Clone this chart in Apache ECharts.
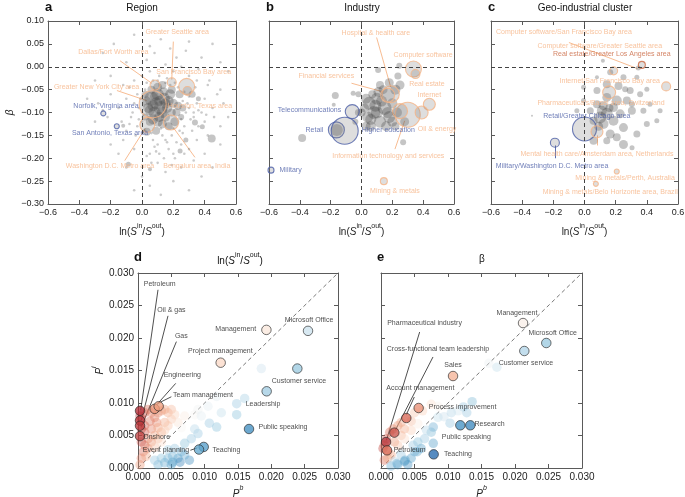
<!DOCTYPE html>
<html><head><meta charset="utf-8">
<script src="https://cdn.jsdelivr.net/npm/echarts@6/dist/echarts.min.js"></script>
<style>html,body{margin:0;padding:0;background:#fff}#c{width:685px;height:497px}</style>
</head><body><div id="c"></div>
<script>
// ---------------- DATA ----------------
// Panel a: Region  (x = ln(Sin/Sout), y = beta)
const regionDots = [
[-0.05,0.07],[0.12,0.06],[0.30,0.055],[0.45,0.05],[-0.25,0.03],[0.08,0.03],[0.22,0.02],[0.38,0.02],[0.50,0.01],[-0.10,0.01],[0.15,0.005],[0.03,0.015],[0.28,0.035],[-0.18,0.05],[0.55,-0.01],
[-0.30,-0.03],[-0.20,-0.02],[-0.12,-0.04],[-0.05,-0.03],[0.00,-0.02],[0.05,-0.01],[0.10,-0.03],[0.20,-0.01],[0.30,-0.02],[0.35,-0.03],[0.42,-0.04],[0.50,-0.05],[-0.08,-0.045],
[-0.35,-0.07],[-0.28,-0.08],[-0.20,-0.06],[-0.15,-0.09],[-0.10,-0.07],[-0.05,-0.08],[-0.02,-0.09],[0.30,-0.09],[0.35,-0.08],[0.40,-0.07],[0.45,-0.09],[0.52,-0.08],[0.48,-0.06],[-0.25,-0.095],
[-0.30,-0.12],[-0.22,-0.11],[-0.13,-0.12],[-0.07,-0.11],[-0.03,-0.13],[0.00,-0.10],[0.27,-0.13],[0.33,-0.11],[0.40,-0.12],[0.50,-0.13],[0.55,-0.11],[-0.10,-0.14],
[-0.20,-0.17],[-0.12,-0.16],[-0.05,-0.18],[0.00,-0.16],[0.05,-0.19],[0.10,-0.17],[0.15,-0.16],[0.20,-0.19],[0.25,-0.17],[0.30,-0.18],[0.35,-0.16],[0.40,-0.19],[0.50,-0.17],[-0.15,-0.19],
[-0.10,-0.22],[0.00,-0.24],[0.05,-0.26],[0.10,-0.21],[0.15,-0.23],[0.20,-0.25],[0.25,-0.22],[0.30,-0.27],[0.38,-0.24],[0.12,-0.28],[-0.05,-0.27],[0.45,-0.22],
[0.02,-0.05],[0.04,-0.11],[0.18,-0.04],[0.23,-0.045],[0.26,-0.075],[0.28,-0.10],[0.24,-0.14],[0.19,-0.15],[0.13,-0.15],[0.07,-0.16],[-0.01,-0.07],[0.00,-0.12],[0.16,-0.025],[0.11,-0.02],[0.07,-0.03],[0.30,-0.065],[0.33,-0.10],[0.22,-0.165],[0.17,-0.18],[0.09,-0.185],
[0.36,-0.13],[0.42,-0.15],[0.38,-0.10],[0.32,-0.14],[0.27,-0.19],[0.14,-0.20],[0.06,-0.21],[0.02,-0.14],[-0.04,-0.15],[0.21,-0.20],[0.46,-0.11],[0.43,-0.03],[0.36,-0.005],[0.25,0.0],[0.18,0.04],[0.05,0.045],
[0.01,-0.085],[0.03,-0.035],[0.15,-0.035],[0.21,-0.035],[0.27,-0.055],[0.29,-0.08],[0.25,-0.115],[0.20,-0.135],[0.12,-0.135],[0.06,-0.145],[0.01,-0.105],[-0.03,-0.06],[0.34,-0.045],[0.31,-0.115],[0.16,-0.165],[0.11,-0.19],
[-0.06,-0.10],[-0.08,-0.125],[-0.02,-0.115],[0.36,-0.095],[0.41,-0.105],[0.26,-0.145],[0.08,-0.175],[0.03,-0.195],[0.19,-0.215],[0.33,-0.205]
];
const regionBubbles = [
[0.06,-0.07,14],[0.10,-0.06,12],[0.14,-0.07,12],[0.12,-0.09,14],[0.08,-0.10,12],[0.16,-0.09,10],[0.18,-0.06,10],[0.20,-0.08,9],[0.04,-0.09,10],[0.10,-0.12,10],[0.15,-0.11,9],[0.22,-0.10,8],
[0.06,-0.05,8],[0.13,-0.04,8],[0.24,-0.06,8],[0.02,-0.06,7],[0.17,-0.13,8],[0.26,-0.09,7],[0.09,-0.14,8],[0.05,-0.12,8],[0.21,-0.12,9],[0.11,-0.075,10],[0.14,-0.055,9],[0.07,-0.085,11],
[0.09,-0.08,12],[0.13,-0.10,11],[0.05,-0.095,10],[0.17,-0.075,10],[0.11,-0.11,10],[0.08,-0.065,9],[0.19,-0.10,8],[0.15,-0.08,10],
[0.03,-0.075,9],[0.10,-0.045,9],[0.19,-0.05,8],[0.23,-0.085,8],[0.13,-0.125,9],[0.07,-0.115,10],[0.02,-0.11,7],[0.25,-0.11,6],
[0.445,-0.157,8],[0.03,-0.142,8],[0.243,-0.184,5],[0.385,-0.131,5],[0.338,-0.122,6],[0.32,-0.06,7],[-0.12,-0.129,4],[-0.087,-0.213,5],[0.051,-0.224,4],[0.28,-0.16,5],[0.36,-0.07,5]
];
const regionMarked = [
['Greater New York City area',0.068,-0.082,27,'o'],
['Dallas/Fort Worth area',0.083,-0.040,10,'o'],
['Greater Seattle area',0.19,-0.034,9,'o'],
['San Francisco Bay area',0.285,-0.043,16,'o'],
['Houston, Texas area',0.29,-0.053,9,'o'],
['Washington D.C. Metro area',0.034,-0.127,15,'o'],
['Bengaluru area, India',0.185,-0.122,15,'o'],
['Norfolk, Virginia area',-0.247,-0.102,5,'b'],
['San Antonio, Texas area',-0.161,-0.130,5,'b']
];
const regionLabels = [
['Greater Seattle area',0.225,0.075,'o'],
['Dallas/Fort Worth area',-0.183,0.033,'o'],
['San Francisco Bay area',0.33,-0.011,'o'],
['Greater New York City area',-0.29,-0.045,'o'],
['Houston, Texas area',0.37,-0.086,'o'],
['Norfolk, Virginia area',-0.23,-0.087,'b'],
['San Antonio, Texas area',-0.204,-0.145,'b'],
['Washington D.C. Metro area',-0.204,-0.218,'o'],
['Bengaluru area, India',0.35,-0.216,'o']
];
const regionLeaders = [
[0.20,0.055,0.19,-0.028,'o'],
[-0.14,0.013,0.062,-0.036,'o'],
[-0.16,-0.052,0.03,-0.074,'o'],
[-0.11,-0.205,0.02,-0.135,'o'],
[0.338,-0.198,0.2,-0.133,'o']
];

// Panel b: Industry
const industryBubbles = [
[0.05,-0.08,13],[0.10,-0.07,12],[0.15,-0.09,14],[0.08,-0.10,13],[0.12,-0.12,12],[0.04,-0.11,11],[0.18,-0.11,12],[0.20,-0.08,10],[0.22,-0.05,10],[0.14,-0.05,9],[0.06,-0.13,10],[0.16,-0.13,10],
[0.10,-0.10,12],[0.02,-0.09,9],[0.23,-0.10,10],[0.12,-0.04,8],[0.25,-0.04,9],[0.07,-0.06,8],[0.18,-0.035,9],[0.00,-0.10,8],[0.03,-0.13,9],[0.22,-0.13,8],[0.28,-0.12,9],
[0.09,-0.085,12],[0.13,-0.075,11],[0.06,-0.115,11],[0.17,-0.10,11],[0.03,-0.07,10],[0.11,-0.055,10],[0.2,-0.12,10],
[-0.385,-0.156,8],[0.27,-0.165,6],[-0.17,-0.063,7],[-0.18,-0.083,4],[-0.054,-0.058,5],[0.108,-0.007,6],[0.245,0.002,6],[0.236,-0.02,7],[-0.02,-0.06,6],[-0.04,-0.12,6],[-0.02,-0.10,7],[-0.16,-0.138,12]
];
const industryMarked = [
['Computer software',0.337,-0.005,16,'o'],
['Real estate',0.35,-0.016,9,'o'],
['Hospital & health care',0.19,-0.06,17,'o'],
['Financial services',0.17,-0.062,14,'o'],
['Internet',0.44,-0.082,12,'o'],
['Information technology and services',0.30,-0.105,25,'o'],
['Oil & energy',0.39,-0.10,13,'o'],
['Computer hardware',0.25,-0.097,15,'o'],
['Telecommunications',-0.06,-0.098,14,'b'],
['Retail',-0.163,-0.138,16,'b'],
['Higher education',-0.109,-0.14,27,'b'],
['Military',-0.587,-0.226,6,'b'],
['Mining & metals',0.145,-0.25,7,'o']
];
const industryLabels = [
['Hospital & health care',0.093,0.074,'o'],
['Computer software',0.40,0.026,'o'],
['Financial services',-0.228,-0.02,'o'],
['Real estate',0.424,-0.038,'o'],
['Internet',0.44,-0.061,'o'],
['Telecommunications',-0.337,-0.095,'b'],
['Retail',-0.305,-0.138,'b'],
['Higher education',0.174,-0.138,'b'],
['Oil & energy',0.49,-0.136,'o'],
['Information technology and services',0.174,-0.196,'o'],
['Military',-0.46,-0.226,'b'],
['Mining & metals',0.217,-0.271,'o']
];
const industryLeaders = [
[0.098,0.064,0.19,-0.045,'o'],
[-0.065,-0.036,0.13,-0.054,'o'],
[0.217,-0.18,0.28,-0.118,'o']
];

// Panel c: Geo-industrial cluster
const clusterBubbles = [
[0.118,0.013,4],[0.165,-0.012,6],[0.25,-0.023,6],[-0.006,-0.045,5],[0.08,-0.052,7],[0.218,-0.042,8],[0.293,-0.052,7],[0.357,-0.06,6],[0.40,-0.049,5],[0.207,-0.074,10],
[0.08,-0.082,8],[0.037,-0.096,7],[0.143,-0.103,12],[0.229,-0.103,9],[0.304,-0.096,8],[0.378,-0.096,6],[0.42,-0.082,5],[0.25,-0.133,9],[0.336,-0.147,7],[0.165,-0.147,9],
[0.25,-0.17,9],[0.40,-0.125,6],[0.464,-0.118,5],[0.485,-0.096,5],[0.122,-0.125,10],[0.10,-0.111,12],[0.186,-0.118,10],[0.058,-0.118,8],[0.111,-0.096,10],[0.186,-0.089,9],
[-0.006,-0.074,5],[-0.049,-0.096,5],[-0.337,-0.107,2],[0.143,-0.038,8],[0.261,-0.049,6],[0.336,-0.023,5],[0.08,-0.023,4],[0.143,-0.162,7],[0.058,-0.162,8],[0.305,-0.177,5],
[0.207,-0.154,8],[0.143,-0.067,9],[0.272,-0.074,8],[0.304,-0.082,6],[0.345,-0.003,5],[0.12,-0.085,9],[0.16,-0.09,8],[0.09,-0.13,9]
];
const clusterMarked = [
['Computer software/Greater Seattle area',0.187,-0.009,8,'o'],
['Real estate/Greater Los Angeles area',0.368,0.004,7,'r'],
['Internet/San Francisco Bay area',0.524,-0.043,9,'o'],
['Pharmaceuticals/Basel area, Switzerland',0.158,-0.056,13,'o'],
['Retail/Greater Chicago area',0.0,-0.136,24,'b'],
['Mental health care/Amsterdam area, Netherlands',0.08,-0.142,12,'o'],
['Military/Washington D.C. Metro area',-0.19,-0.166,9,'b'],
['Mining & metals/Perth, Australia',0.207,-0.229,5,'o'],
['Mining & metals/Belo Horizonte area, Brazil',0.073,-0.256,5,'o']
];
const clusterLabels = [
['Computer software/San Francisco Bay area',-0.132,0.075,'o'],
['Computer software/Greater Seattle area',0.098,0.046,'o'],
['Real estate/Greater Los Angeles area',0.175,0.028,'r'],
['Internet/San Francisco Bay area',0.162,-0.031,'o'],
['Pharmaceuticals/Basel area, Switzerland',0.106,-0.08,'o'],
['Retail/Greater Chicago area',0.015,-0.107,'b'],
['Mental health care/Amsterdam area, Netherlands',0.08,-0.19,'o'],
['Military/Washington D.C. Metro area',-0.208,-0.216,'b'],
['Mining & metals/Perth, Australia',0.26,-0.243,'o'],
['Mining & metals/Belo Horizonte area, Brazil',0.165,-0.273,'o']
];
const clusterLeaders = [
[-0.10,0.053,0.34,-0.004,'o'],
[0.08,-0.15,0.08,-0.172,'o'],
[-0.19,-0.172,-0.19,-0.2,'b']
];

// Panel d: skills, colour = ln(Sin/Sout)   [Pb, Pi, colour value]
const skillsD = [
[0.0003,0.008,0.9],[0.0005,0.0075,0.85],[0.001,0.0085,0.7],[0.0015,0.009,0.6],[0.002,0.0085,0.5],[0.0025,0.0078,0.5],[0.003,0.0085,0.45],[0.0035,0.0088,0.4],[0.004,0.009,0.35],[0.0045,0.0085,0.3],
[0.005,0.009,0.25],[0.0028,0.007,0.45],[0.0018,0.0072,0.55],[0.001,0.0065,0.7],[0.0005,0.006,0.8],[0.001,0.0055,0.7],[0.002,0.006,0.5],[0.003,0.0062,0.35],[0.004,0.007,0.3],[0.0035,0.0055,0.3],
[0.0025,0.005,0.35],[0.0015,0.0045,0.5],[0.0005,0.004,0.8],[0.001,0.0035,0.6],[0.002,0.004,0.4],[0.003,0.0045,0.25],[0.0045,0.0065,0.2],[0.005,0.0075,0.2],[0.0055,0.0082,0.15],[0.0008,0.0025,0.6],
[0.0015,0.003,0.45],[0.0005,0.0015,0.5],[0.0012,0.0018,0.3],[0.0025,0.0032,0.2],[0.0035,0.004,0.1],[0.0003,0.0005,0.4],[0.004,0.0058,0.15],[0.006,0.007,0.08],[0.0065,0.0062,0.0],[0.007,0.008,0.05],
[0.0085,0.0082,0.0],[0.009,0.009,-0.02],[0.0118,0.011,-0.06],[0.0105,0.0095,-0.05],
[0.0185,0.0153,-0.12],[0.016,0.0107,-0.25],[0.0148,0.0099,-0.3],[0.0148,0.0082,-0.35],[0.0118,0.0063,-0.35],[0.0107,0.0069,-0.3],[0.009,0.0053,-0.3],[0.008,0.0045,-0.3],[0.007,0.0038,-0.35],
[0.0065,0.0025,-0.45],[0.006,0.0015,-0.6],[0.0077,0.0012,-0.7],[0.0063,0.0009,-0.8],[0.0052,0.0009,-0.65],[0.005,0.0005,-0.6],[0.0045,0.0015,-0.45],[0.004,0.0008,-0.5],[0.0035,0.0015,-0.35],
[0.003,0.0005,-0.45],[0.0025,0.0012,-0.3],[0.0045,0.0028,-0.25],[0.0055,0.003,-0.3],[0.007,0.002,-0.5],[0.0052,0.0018,-0.45],[0.0085,0.006,-0.2],[0.0125,0.0085,-0.15],[0.0095,0.008,-0.05]
];
const markedD = [
['Management',0.01926,0.02125,0.06],
['Microsoft Office',0.0255,0.0211,-0.12],
['Project management',0.0124,0.0162,0.12],
['Customer service',0.0239,0.0153,-0.3],
['Leadership',0.0193,0.0118,-0.28],
['Public speaking',0.01665,0.006,-0.72],
['Teaching',0.00986,0.00324,-0.6],
['Event planning',0.00915,0.00284,-0.55],
['Engineering',0.0025,0.0091,0.42],
['Team management',0.0031,0.0095,0.38],
['Petroleum',0.0003,0.0088,0.95],
['Oil & gas',0.0003,0.0073,0.9],
['Gas',0.0003,0.0065,0.88],
['Onshore',0.0003,0.0049,0.85]
];
const labelsD = [
['Petroleum',0.00326,0.0283],['Oil & gas',0.005,0.0243],['Gas',0.0065,0.0203],['Engineering',0.00665,0.0143],['Team management',0.00975,0.0112],
['Onshore',0.0028,0.0048],['Event planning',0.0042,0.0027],['Management',0.01466,0.02136],['Microsoft Office',0.02566,0.0228],['Project management',0.01236,0.018],
['Customer service',0.02415,0.01343],['Leadership',0.01875,0.00983],['Public speaking',0.02175,0.00633],['Teaching',0.01326,0.00273]
];
const leadersD = [
[0.003,0.02742,0.0004,0.00887],[0.0045,0.02341,0.0005,0.00736],[0.00576,0.01944,0.0005,0.00633],
[0.00566,0.01302,0.00276,0.00968],[0.005,0.01096,0.003,0.00994],[0.00786,0.00273,0.0089,0.0031]
];

// Panel e: skills, colour = beta
const skillsE = [
[0.0003,0.003,0.8],[0.0008,0.0045,0.7],[0.0013,0.0055,0.6],[0.0018,0.006,0.5],[0.0025,0.0065,0.4],[0.003,0.007,0.35],[0.0035,0.006,0.3],[0.0045,0.0072,0.25],[0.005,0.0085,0.2],[0.0062,0.0088,0.15],
[0.0075,0.0098,0.1],[0.0045,0.0058,0.15],[0.003,0.005,0.25],[0.002,0.004,0.4],[0.001,0.0025,0.55],[0.0005,0.0012,0.6],[0.0015,0.002,0.35],[0.0025,0.0035,0.2],[0.0035,0.0045,0.1],[0.0055,0.0068,0.05],
[0.0005,0.0035,0.6],[0.001,0.0015,0.3],
[0.0015,0.0003,-0.5],[0.0025,0.0005,-0.6],[0.0035,0.001,-0.65],[0.004,0.0005,-0.7],[0.0045,0.0015,-0.6],[0.003,0.002,-0.3],[0.005,0.0025,-0.5],[0.006,0.003,-0.6],[0.0055,0.004,-0.35],
[0.0065,0.0045,-0.3],[0.0075,0.0055,-0.4],[0.0078,0.0063,-0.5],[0.0078,0.0038,-0.6],[0.0068,0.0058,-0.2],[0.0085,0.0078,-0.15],[0.0094,0.0079,-0.12],[0.0103,0.0069,-0.3],[0.0105,0.0085,-0.2],
[0.0123,0.0094,-0.3],[0.0136,0.0102,-0.4],[0.0128,0.0085,-0.3],[0.0115,0.0088,-0.1],[0.0161,0.0161,-0.03],[0.0173,0.0155,-0.15],[0.0085,0.0095,0.02],[0.0054,0.0025,-0.55],[0.002,0.001,-0.2],
[0.0048,0.0035,-0.3],[0.0036,0.0012,-0.6],[0.0024,0.0007,-0.5]
];
const markedE = [
['Management',0.0212,0.0223,0.03],
['Microsoft Office',0.02467,0.01923,-0.3],
['Customer service',0.02139,0.018,-0.22],
['Sales',0.01075,0.01415,0.28],
['Process improvement',0.00562,0.00923,0.45],
['Account management',0.00378,0.00769,0.65],
['Cross-functional team leadership',0.00199,0.00544,0.75],
['Pharmaceutical industry',0.00075,0.004,0.9],
['Petroleum',0.0009,0.00272,0.6],
['Research',0.01184,0.00657,-0.7],
['Research',0.01333,0.00657,-0.75],
['Teaching',0.00786,0.0021,-1]
];
const labelsE = [
['Management',0.0203,0.0239],['Microsoft Office',0.02562,0.02083],['Customer service',0.02164,0.01622],['Sales',0.01075,0.0159],['Process improvement',0.01218,0.0093],
['Research',0.0162,0.00672],['Public speaking',0.01273,0.00477],['Teaching',0.01149,0.00222],['Petroleum',0.00427,0.00272],['Pharmaceutical industry',0.0065,0.02226],
['Cross-functional team leadership',0.0085,0.0183],['Account management',0.00587,0.0123]
];
const leadersE = [
[0.00577,0.02092,0.0008,0.00426],[0.00776,0.01708,0.00213,0.0058],[0.00497,0.01092,0.00378,0.00821]
];

// Axis settings (min, max, interval, decimals)
const betaRange = [-0.3, 0.1, 0.05, 2];
const lnRange = [-0.6, 0.6, 0.2, 1];
const pRange = [0, 0.03, 0.005, 3];

// ---------------- STYLE / BUILD ----------------
const FONT = '"Liberation Sans", Arial, Helvetica, sans-serif';
const GC = {o:'#f6b486', b:'#4b5ea6', r:'#c9653f'};
const AX = '#5a5a5a';
const boxes = [
  {left:48, top:21, width:188, height:183},
  {left:269, top:21, width:185, height:183},
  {left:491, top:21, width:187, height:183},
  {left:138, top:273, width:200, height:195},
  {left:381, top:273, width:201, height:195}
];
const RDBU = [[-1,[33,102,172]],[-0.67,[67,147,195]],[-0.33,[146,197,222]],[-0.1,[209,229,240]],[0,[247,245,243]],[0.1,[252,222,204]],[0.33,[242,166,132]],[0.67,[212,96,80]],[1,[168,30,45]]];
function rdbu(c, a){
  c = Math.max(-1, Math.min(1, c));
  for (let k = 1; k < RDBU.length; k++) {
    if (c <= RDBU[k][0]) {
      const c0 = RDBU[k-1][0], p = RDBU[k-1][1], c1 = RDBU[k][0], q = RDBU[k][1];
      const t = (c - c0) / (c1 - c0);
      const r = p.map((v, j) => Math.round(v + (q[j] - v) * t));
      return 'rgba(' + r[0] + ',' + r[1] + ',' + r[2] + ',' + a + ')';
    }
  }
}
const fmt = d => v => (Math.abs(v) < 1e-12 ? 0 : v).toFixed(d).replace('-', '\u2212');
const rich = {
  n:{fontSize:10, fontFamily:FONT, color:'#222', lineHeight:14, verticalAlign:'bottom'},
  i:{fontSize:10, fontFamily:FONT, fontStyle:'italic', color:'#222', lineHeight:14, verticalAlign:'bottom'},
  s:{fontSize:7, fontFamily:FONT, color:'#222', lineHeight:14, verticalAlign:'top'},
  si:{fontSize:7, fontFamily:FONT, fontStyle:'italic', color:'#222', lineHeight:14, verticalAlign:'top'}
};
const lnName = '{n|ln(}{i|S}{s|in}{n|/}{i|S}{s|out}{n|)}';

const panels = [
  {x:lnRange, y:betaRange, yLab:true, fs:9, xName:lnName, yName:'{i|β}', yGap:33, xGap:19},
  {x:lnRange, y:betaRange, yLab:false, fs:9, xName:lnName, yName:'', yGap:0, xGap:19},
  {x:lnRange, y:betaRange, yLab:false, fs:9, xName:lnName, yName:'', yGap:0, xGap:19},
  {x:pRange, y:pRange, yLab:true, fs:10, xName:'{i|P}{si|b}', yName:'{i|P}{si|i}', yGap:33, xGap:17},
  {x:pRange, y:pRange, yLab:false, fs:10, xName:'{i|P}{si|b}', yName:'', yGap:0, xGap:17}
];

const grid = boxes.map(b => Object.assign({outerBoundsMode:'none', containLabel:false}, b));
const xAxis = [], yAxis = [];
const axLine = {show:true, onZero:false, lineStyle:{color:AX, width:1}};
const tick = {show:true, inside:true, length:4, lineStyle:{color:AX, width:1}};
panels.forEach((p, i) => {
  xAxis.push({type:'value', gridIndex:i, position:'bottom', min:p.x[0], max:p.x[1], interval:p.x[2],
    axisLine:axLine, axisTick:tick, splitLine:{show:false},
    axisLabel:{show:true, formatter:fmt(p.x[3]), fontSize:p.fs, fontFamily:FONT, color:'#222', margin:4},
    name:p.xName, nameLocation:'middle', nameGap:p.xGap, nameTextStyle:{rich:rich}});
  yAxis.push({type:'value', gridIndex:i, position:'left', min:p.y[0], max:p.y[1], interval:p.y[2],
    axisLine:axLine, axisTick:tick, splitLine:{show:false},
    axisLabel:{show:p.yLab, formatter:fmt(p.y[3]), fontSize:p.fs, fontFamily:FONT, color:'#222', margin:4},
    name:p.yName, nameLocation:'middle', nameGap:p.yGap, nameRotate:90, nameTextStyle:{rich:rich}});
});
panels.forEach((p, i) => {
  xAxis.push({type:'value', gridIndex:i, position:'top', min:p.x[0], max:p.x[1], interval:p.x[2],
    axisLine:axLine, axisTick:tick, axisLabel:{show:false}, splitLine:{show:false}});
  yAxis.push({type:'value', gridIndex:i, position:'right', min:p.y[0], max:p.y[1], interval:p.y[2],
    axisLine:axLine, axisTick:tick, axisLabel:{show:false}, splitLine:{show:false}});
});

const series = [];
const zeroLines = {silent:true, symbol:'none', label:{show:false}, animation:false,
  lineStyle:{type:[4,3], color:'#444', width:1}, data:[{xAxis:0},{yAxis:0}]};

function annotated(i, dots, bubbles, marked, labels, leaders){
  if (dots) series.push({type:'scatter', xAxisIndex:i, yAxisIndex:i, silent:true, symbolSize:2.6,
    itemStyle:{color:'rgba(110,110,110,0.45)'}, data:dots});
  series.push({type:'scatter', xAxisIndex:i, yAxisIndex:i, silent:true, symbolSize:v => v[2],
    itemStyle:{color:'rgba(55,55,55,0.36)'}, data:bubbles, markLine:zeroLines});
  series.push({type:'scatter', xAxisIndex:i, yAxisIndex:i, silent:true,
    itemStyle:{color:'rgba(120,120,120,0.3)', borderWidth:1.1},
    data:marked.map(m => ({name:m[0], value:[m[1], m[2]], symbolSize:m[3], itemStyle:{borderColor:GC[m[4]]}}))});
  series.push({type:'lines', coordinateSystem:'cartesian2d', xAxisIndex:i, yAxisIndex:i, silent:true,
    lineStyle:{width:0.9, opacity:1},
    data:leaders.map(l => ({coords:[[l[0], l[1]], [l[2], l[3]]], lineStyle:{color:GC[l[4]]}}))});
  series.push({type:'scatter', xAxisIndex:i, yAxisIndex:i, silent:true, symbolSize:1,
    itemStyle:{color:'rgba(0,0,0,0)'},
    label:{show:true, position:'inside', formatter:'{b}', fontSize:7, fontFamily:FONT},
    labelLayout:{hideOverlap:false},
    data:labels.map(l => ({name:l[0], value:[l[1], l[2]], label:{color:GC[l[3]]}}))});
}
annotated(0, regionDots, regionBubbles, regionMarked, regionLabels, regionLeaders);
annotated(1, null, industryBubbles, industryMarked, industryLabels, industryLeaders);
annotated(2, null, clusterBubbles, clusterMarked, clusterLabels, clusterLeaders);

function skillPanel(i, bg, marked, labels, leaders){
  series.push({type:'line', xAxisIndex:i, yAxisIndex:i, silent:true, symbol:'none',
    lineStyle:{type:[4,3], color:'#555', width:0.8}, data:[[pRange[0], pRange[0]], [pRange[1], pRange[1]]], z:1});
  series.push({type:'scatter', xAxisIndex:i, yAxisIndex:i, silent:true, symbolSize:9.5,
    data:bg.map(p => ({value:[p[0], p[1]], itemStyle:{color:rdbu(p[2], 0.5)}}))});
  series.push({type:'lines', coordinateSystem:'cartesian2d', xAxisIndex:i, yAxisIndex:i, silent:true,
    lineStyle:{width:0.8, opacity:1, color:'#222'},
    data:leaders.map(l => ({coords:[[l[0], l[1]], [l[2], l[3]]]}))});
  series.push({type:'scatter', xAxisIndex:i, yAxisIndex:i, silent:true, symbolSize:9.5,
    itemStyle:{borderColor:'#222', borderWidth:0.8},
    data:marked.map(m => ({name:m[0], value:[m[1], m[2]], itemStyle:{color:rdbu(m[3], 0.95)}}))});
  series.push({type:'scatter', xAxisIndex:i, yAxisIndex:i, silent:true, symbolSize:1,
    itemStyle:{color:'rgba(0,0,0,0)'},
    label:{show:true, position:'inside', formatter:'{b}', fontSize:7, fontFamily:FONT, color:'#222'},
    labelLayout:{hideOverlap:false},
    data:labels.map(l => ({name:l[0], value:[l[1], l[2]]}))});
}
skillPanel(3, skillsD, markedD, labelsD, leadersD);
skillPanel(4, skillsE, markedE, labelsE, leadersE);

function txt(x, y, text, size, bold, extra){
  return {type:'text', x:x, y:y, silent:true, style:Object.assign({text:text, fontSize:size, fontFamily:FONT,
    fontWeight:bold ? 'bold' : 'normal', fill:'#111', textAlign:bold ? 'left' : 'center', textVerticalAlign:'top'}, extra || {})};
}
const graphic = [
  txt(45, 1, 'a', 13, true), txt(142, 3, 'Region', 10, false),
  txt(266, 1, 'b', 13, true), txt(362, 3, 'Industry', 10, false),
  txt(488, 1, 'c', 13, true), txt(585, 3, 'Geo-industrial cluster', 10, false),
  txt(134, 251, 'd', 13, true), txt(240, 252, lnName, 10, false, {rich:rich}),
  txt(377, 251, 'e', 13, true), txt(482, 254, 'β', 10, false)
];

const chart = echarts.init(document.getElementById('c'), null, {renderer:'canvas'});
chart.setOption({animation:false, backgroundColor:'#fff', grid:grid, xAxis:xAxis, yAxis:yAxis, series:series, graphic:graphic});
</script></body></html>
